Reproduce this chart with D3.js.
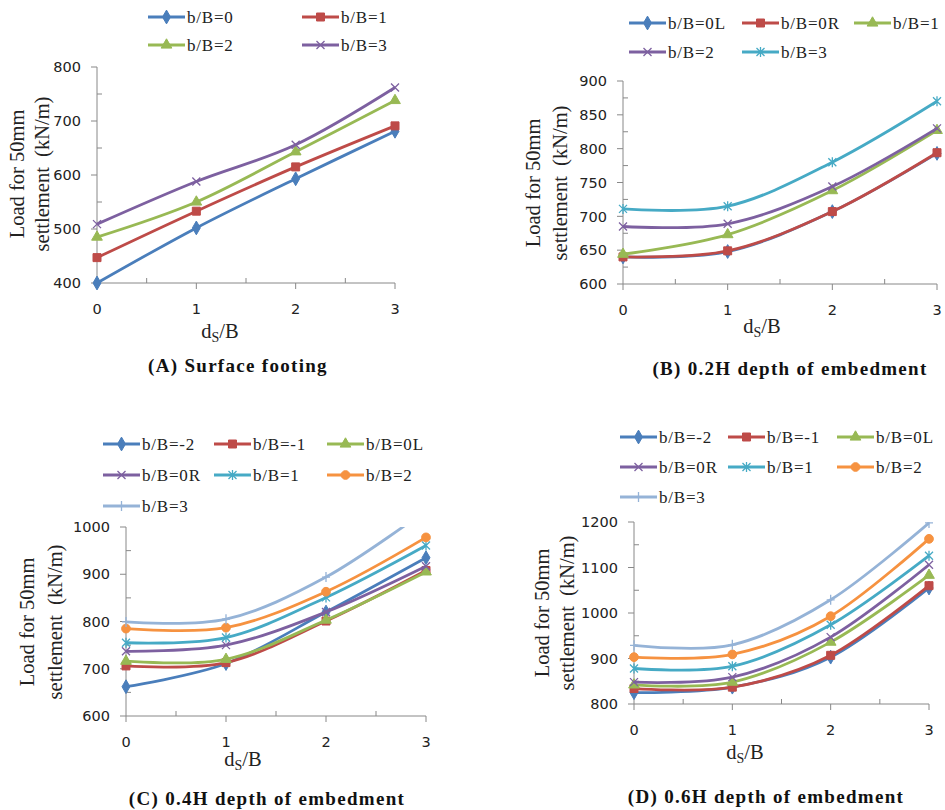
<!DOCTYPE html>
<html>
<head>
<meta charset="utf-8">
<script src="https://cdn.jsdelivr.net/npm/d3@7"></script>
<style>
  body { margin: 0; background: #fff; }
  svg { display: block; }
  .tick-lbl { font-family: "DejaVu Sans", Verdana, sans-serif; font-size: 14.5px; fill: #222; }
  .leg-lbl { font-family: "Liberation Serif", "Times New Roman", serif; font-size: 17px; fill: #222; letter-spacing: 0.8px; }
  .ax-title { font-family: "Liberation Serif", "Times New Roman", serif; font-size: 20.5px; fill: #222; }
  .caption { font-family: "Liberation Serif", "Times New Roman", serif; font-size: 19px; font-weight: bold; fill: #111; letter-spacing: 1.3px; }
</style>
</head>
<body>
<div id="chart"></div>
<script>
// shared x values (ds/B)
var dsB = [0, 1, 2, 3];
var xTicks = [0, 1, 2, 3];

// (A) surface footing
var labelsA = ["b/B=0", "b/B=1", "b/B=2", "b/B=3"];
var loadA = [
  [400, 502, 593, 681],
  [447, 533, 615, 691],
  [485, 550, 643, 738],
  [509, 588, 656, 762]
];
var yTicksA = [400, 500, 600, 700, 800];

// (B) 0.2H depth of embedment
var labelsB = ["b/B=0L", "b/B=0R", "b/B=1", "b/B=2", "b/B=3"];
var loadB = [
  [640, 648, 707, 793],
  [640, 649, 707, 794],
  [644, 673, 738, 827],
  [685, 689, 744, 830],
  [711, 715, 780, 870]
];
var yTicksB = [600, 650, 700, 750, 800, 850, 900];

// (C) 0.4H depth of embedment
var labelsC = ["b/B=-2", "b/B=-1", "b/B=0L", "b/B=0R", "b/B=1", "b/B=2", "b/B=3"];
var loadC = [
  [662, 711, 820, 935],
  [706, 713, 801, 908],
  [716, 720, 803, 905],
  [737, 750, 820, 917],
  [755, 766, 851, 961],
  [785, 787, 863, 978],
  [799, 805, 894, 1035]
];
var yTicksC = [600, 700, 800, 900, 1000];

// (D) 0.6H depth of embedment
var labelsD = ["b/B=-2", "b/B=-1", "b/B=0L", "b/B=0R", "b/B=1", "b/B=2", "b/B=3"];
var loadD = [
  [825, 837, 903, 1055],
  [834, 837, 907, 1060],
  [842, 848, 936, 1083],
  [848, 859, 947, 1106],
  [878, 883, 974, 1126],
  [903, 909, 993, 1163],
  [929, 930, 1029, 1198]
];
var yTicksD = [800, 900, 1000, 1100, 1200];

var W = 945, H = 810;
var svg = d3.select("#chart").append("svg")
  .attr("width", W).attr("height", H);
svg.append("rect").attr("width", W).attr("height", H).attr("fill", "#fff");

var styles = {
  blue:   { c: "#4A7EBB", m: "diamond" },
  red:    { c: "#BE4B48", m: "square" },
  green:  { c: "#98B954", m: "triangle" },
  purple: { c: "#7D60A0", m: "x" },
  cyan:   { c: "#46AAC5", m: "star" },
  orange: { c: "#F69240", m: "circle" },
  lblue:  { c: "#95B3D7", m: "plus" }
};

function drawMarker(g, kind, color, x, y) {
  var sym = { diamond: [d3.symbolDiamond, 55], square: [d3.symbolSquare, 64],
              triangle: [d3.symbolTriangle, 50], circle: [d3.symbolCircle, 60] };
  if (sym[kind]) {
    g.append("path")
      .attr("d", d3.symbol(sym[kind][0], sym[kind][1])())
      .attr("transform", "translate(" + x + "," + y + ")")
      .attr("fill", color).attr("stroke", color).attr("stroke-width", 1);
    return;
  }
  var p = "";
  if (kind == "x" || kind == "star") p += "M-4,-4L4,4M-4,4L4,-4";
  if (kind == "star") p += "M0,-5V5";
  if (kind == "plus") p += "M-4,0H4M0,-5V5";
  g.append("path").attr("d", p)
    .attr("transform", "translate(" + x + "," + y + ")")
    .attr("fill", "none").attr("stroke", color).attr("stroke-width", 1.3);
}

function panel(cfg, id) {
  var g = svg.append("g");
  var x = d3.scaleLinear().domain([0, 3]).range([cfg.x0, cfg.x1]);
  var y = d3.scaleLinear().domain([cfg.yTicks[0], cfg.yTicks[cfg.yTicks.length - 1]])
    .range([cfg.yBot, cfg.yTop]);

  // axes
  var axisCol = "#888";
  var yStep = cfg.yTicks[1] - cfg.yTicks[0];
  var yMinor = d3.range(cfg.yTicks[0] + yStep / 2, cfg.yTicks[cfg.yTicks.length - 1], yStep);
  var xMinor = [0.5, 1.5, 2.5];

  g.append("line").attr("x1", cfg.x0).attr("x2", cfg.x0)
    .attr("y1", cfg.yTop).attr("y2", cfg.yBot).attr("stroke", axisCol);
  g.append("line").attr("x1", cfg.x0).attr("x2", cfg.x1)
    .attr("y1", cfg.yBot).attr("y2", cfg.yBot).attr("stroke", axisCol);

  cfg.yTicks.forEach(function(v) {
    g.append("line").attr("x1", cfg.x0 - 6).attr("x2", cfg.x0)
      .attr("y1", y(v)).attr("y2", y(v)).attr("stroke", axisCol);
    g.append("text").attr("class", "tick-lbl")
      .attr("x", cfg.x0 - 16).attr("y", y(v)).attr("dy", "0.36em")
      .attr("text-anchor", "end").text(v);
  });
  yMinor.forEach(function(v) {
    g.append("line").attr("x1", cfg.x0).attr("x2", cfg.x0 + 5)
      .attr("y1", y(v)).attr("y2", y(v)).attr("stroke", axisCol);
  });
  xTicks.forEach(function(v) {
    g.append("line").attr("x1", x(v)).attr("x2", x(v))
      .attr("y1", cfg.yBot).attr("y2", cfg.yBot + 6).attr("stroke", axisCol);
    g.append("text").attr("class", "tick-lbl")
      .attr("x", x(v)).attr("y", cfg.yBot + 26).attr("dy", "0.36em")
      .attr("text-anchor", "middle").text(v);
  });
  xMinor.forEach(function(v) {
    g.append("line").attr("x1", x(v)).attr("x2", x(v))
      .attr("y1", cfg.yBot - 5).attr("y2", cfg.yBot).attr("stroke", axisCol);
  });

  // x title: d_S/B
  var xt = g.append("text").attr("class", "ax-title")
    .attr("x", cfg.xtX).attr("y", cfg.xtY).attr("dy", "0.3em")
    .attr("text-anchor", "middle");
  xt.append("tspan").text("d");
  xt.append("tspan").attr("font-size", "14px").attr("dy", "4").text("S");
  xt.append("tspan").attr("dy", "-4").text("/B");

  // y title (two lines)
  [["Load for 50mm", cfg.ytX1], ["settlement  (kN/m)", cfg.ytX2]].forEach(function(t) {
    g.append("text").attr("class", "ax-title")
      .attr("transform", "translate(" + t[1] + "," + cfg.ytY + ") rotate(-90)")
      .attr("text-anchor", "middle").attr("dy", "0.35em")
      .style("white-space", "pre").text(t[0]);
  });

  // caption
  g.append("text").attr("class", "caption")
    .attr("x", cfg.capX).attr("y", cfg.capY).attr("dy", "0.35em")
    .attr("text-anchor", "middle").text(cfg.caption);

  // series
  g.append("clipPath").attr("id", "clip" + id).append("rect")
    .attr("x", cfg.x0 - 12).attr("y", cfg.yTop)
    .attr("width", cfg.x1 - cfg.x0 + 24).attr("height", cfg.yBot - cfg.yTop + 12);
  var plot = g.append("g").attr("clip-path", "url(#clip" + id + ")");
  var line = d3.line()
    .x(function(d, i) { return x(dsB[i]); })
    .y(function(d) { return y(d); })
    .curve(d3.curveCardinal.tension(0));

  cfg.data.forEach(function(vals, si) {
    var st = styles[cfg.styles[si]];
    plot.append("path").datum(vals)
      .attr("d", line).attr("fill", "none")
      .attr("stroke", st.c).attr("stroke-width", 2.8);
    vals.forEach(function(v, i) {
      drawMarker(plot, st.m, st.c, x(dsB[i]), y(v));
    });
  });

  // legend
  cfg.labels.forEach(function(lab, si) {
    var st = styles[cfg.styles[si]];
    var lx = cfg.legX[si % cfg.legX.length];
    var ly = cfg.legY[Math.floor(si / cfg.legX.length)];
    g.append("line").attr("x1", lx).attr("x2", lx + 37)
      .attr("y1", ly).attr("y2", ly)
      .attr("stroke", st.c).attr("stroke-width", 3);
    drawMarker(g, st.m, st.c, lx + 18.5, ly);
    g.append("text").attr("class", "leg-lbl")
      .attr("x", lx + 39).attr("y", ly).attr("dy", "0.33em").text(lab);
  });
}

panel({
  x0: 97, x1: 395, yTop: 67, yBot: 283, yTicks: yTicksA,
  data: loadA, labels: labelsA, styles: ["blue", "red", "green", "purple"],
  legX: [148, 302], legY: [17, 45],
  xtX: 220, xtY: 332, ytX1: 17, ytX2: 42, ytY: 174,
  caption: "(A) Surface footing", capX: 238, capY: 365
}, "A");

panel({
  x0: 623, x1: 937, yTop: 81, yBot: 284, yTicks: yTicksB,
  data: loadB, labels: labelsB, styles: ["blue", "red", "green", "purple", "cyan"],
  legX: [629, 742, 854], legY: [23, 52],
  xtX: 762, xtY: 327, ytX1: 533, ytX2: 560, ytY: 183,
  caption: "(B) 0.2H depth of embedment", capX: 790, capY: 368
}, "B");

panel({
  x0: 126, x1: 426, yTop: 527, yBot: 716, yTicks: yTicksC,
  data: loadC, labels: labelsC,
  styles: ["blue", "red", "green", "purple", "cyan", "orange", "lblue"],
  legX: [103, 214, 327], legY: [444, 475, 506],
  xtX: 243, xtY: 760, ytX1: 27, ytX2: 55, ytY: 622,
  caption: "(C) 0.4H depth of embedment", capX: 267, capY: 798
}, "C");

panel({
  x0: 634, x1: 929, yTop: 522, yBot: 704, yTicks: yTicksD,
  data: loadD, labels: labelsD,
  styles: ["blue", "red", "green", "purple", "cyan", "orange", "lblue"],
  legX: [620, 728, 837], legY: [437, 467, 497],
  xtX: 745, xtY: 753, ytX1: 542, ytX2: 567, ytY: 613,
  caption: "(D) 0.6H depth of embedment", capX: 766, capY: 796
}, "D");
</script>
</body>
</html>
